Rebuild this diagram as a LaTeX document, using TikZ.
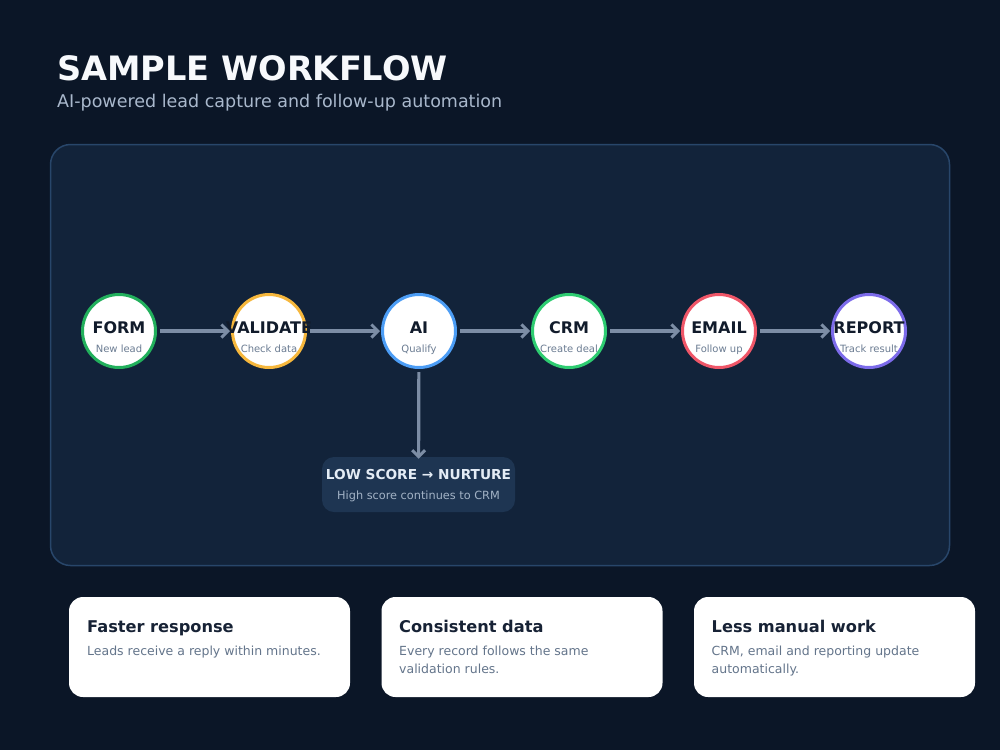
\documentclass[tikz,border=0pt]{standalone}
\usepackage{fontspec}
\setmainfont{DejaVu Sans}
\usetikzlibrary{arrows.meta}
\definecolor{bg}{HTML}{0B1627}
\definecolor{panel}{HTML}{12233A}
\definecolor{panelline}{HTML}{28466A}
\definecolor{arrowc}{HTML}{7C8DA5}
\definecolor{ink}{HTML}{111B2B}
\definecolor{subink}{HTML}{6B7C92}
\definecolor{cgreen}{HTML}{22B05C}
\definecolor{camber}{HTML}{F6B73C}
\definecolor{cblue}{HTML}{4C9DF5}
\definecolor{cgreenb}{HTML}{2ECC71}
\definecolor{cred}{HTML}{EF5668}
\definecolor{cpurple}{HTML}{7C6BEA}
\definecolor{boxfill}{HTML}{1E3552}
\definecolor{boxtitle}{HTML}{E4ECF5}
\definecolor{boxsub}{HTML}{A3B3C6}
\definecolor{titlec}{HTML}{F7F9FC}
\definecolor{subtitlec}{HTML}{A9B8CC}
\definecolor{cardtitle}{HTML}{172235}
\definecolor{carddesc}{HTML}{64758B}
\tikzset{
  stage/.style={circle, draw=#1, line width=3pt, fill=white, minimum size=73pt, inner sep=0pt},
  stagename/.style={anchor=base, text=ink, font=\fontsize{16}{19}\selectfont\bfseries, inner sep=0pt},
  stagesub/.style={anchor=base, text=subink, font=\fontsize{10}{12}\selectfont, inner sep=0pt},
  flow/.style={draw=arrowc, line width=3.2pt, -{Straight Barb[length=6.5pt,width=13pt,line width=3pt]}, shorten <=3pt, shorten >=1pt},
  card/.style={fill=white, rounded corners=14pt},
  cardtitle/.style={anchor=base west, text=cardtitle, font=\fontsize{16.2}{19}\selectfont\bfseries, inner sep=0pt},
  carddesc/.style={anchor=base west, text=carddesc, font=\fontsize{12.5}{18}\selectfont, inner sep=0pt, align=left},
}
\begin{document}
\begin{tikzpicture}[x=1pt,y=-1pt]
\fill[bg] (0,0) rectangle (1000,750);
\useasboundingbox (0,0) rectangle (1000,750);
% title
\node[anchor=base west, inner sep=0pt, text=titlec, font=\fontsize{33.6}{40}\selectfont\bfseries] (title) at (57,80) {SAMPLE WORKFLOW};
\node[anchor=base west, inner sep=0pt, text=subtitlec, font=\fontsize{17.5}{20}\selectfont] (subtitle) at (57,107) {AI-powered lead capture and follow-up automation};
% panel
\draw[fill=panel, draw=panelline, line width=1.5pt, rounded corners=20pt] (50.5,144.5) rectangle (949.5,565.5);
% stages
\node[stage=cgreen] (form) at (119,331) {};
\node[stage=camber] (validate) at (269,331) {};
\node[stage=cblue] (ai) at (419,331) {};
\node[stage=cgreenb] (crm) at (569,331) {};
\node[stage=cred] (email) at (719,331) {};
\node[stage=cpurple] (report) at (869,331) {};
\foreach \n/\t/\s in {form/FORM/New lead, validate/VALIDATE/Check data, ai/AI/Qualify, crm/CRM/Create deal, email/EMAIL/Follow up, report/REPORT/Track result}{
  \node[stagename] (\n-name) at ([yshift=-2.5pt]\n.center) {\t};
  \node[stagesub] (\n-sub) at ([yshift=-21.5pt]\n.center) {\s};
}
\draw[flow] (form) -- (validate);
\draw[flow] (validate) -- (ai);
\draw[flow] (ai) -- (crm);
\draw[flow] (crm) -- (email);
\draw[flow] (email) -- (report);
% low score box
\node[fill=boxfill, rounded corners=12pt, minimum width=193pt, minimum height=55pt, inner sep=0pt] (low) at (418.5,484.5) {};
\node[anchor=base, inner sep=0pt, text=boxtitle, font=\fontsize{13.7}{16}\selectfont\bfseries] (low-title) at (418.5,479) {LOW SCORE → NURTURE};
\node[anchor=base, inner sep=0pt, text=boxsub, font=\fontsize{11.3}{13}\selectfont] (low-sub) at (418.5,499) {High score continues to CRM};
\draw[flow, shorten >=-2pt] (ai) -- (low);
% cards
\fill[card] (69,597) rectangle (350,697);
\fill[card] (381.5,597) rectangle (662.5,697);
\fill[card] (694,597) rectangle (975,697);
\node[cardtitle] (c1t) at (87,632) {Faster response};
\node[carddesc] (c1d) at (87,655.5) {Leads receive a reply within minutes.};
\node[cardtitle] (c2t) at (399,632) {Consistent data};
\node[carddesc] (c2d) at (399,655.5) {Every record follows the same};
\node[carddesc] (c2e) at (399,673.5) {validation rules.};
\node[cardtitle] (c3t) at (711.5,632) {Less manual work};
\node[carddesc] (c3d) at (711.5,655.5) {CRM, email and reporting update};
\node[carddesc] (c3e) at (711.5,673.5) {automatically.};
\end{tikzpicture}
\end{document}
